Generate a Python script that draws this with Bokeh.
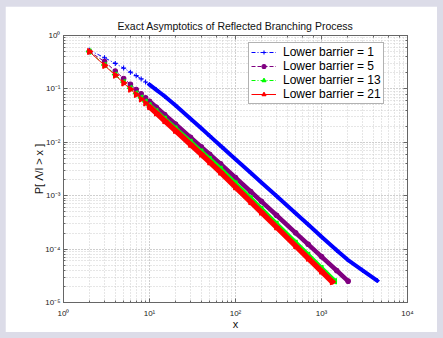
from bokeh.plotting import figure
from bokeh.layouts import column
from bokeh.models import LogAxis, LogTicker, Legend, LegendItem, CustomJSTickFormatter, Range1d
from bokeh.embed import file_html
from bokeh.resources import INLINE

# ---- data ----
x_b1 = [2, 3, 4, 5, 6, 7, 8, 9, 10, 12, 15, 20, 30, 40, 50, 70, 100, 150, 200, 300, 500, 700, 1000, 1500, 2000, 3000, 4440]
p_b1 = [0.53, 0.383, 0.300, 0.245, 0.206, 0.177, 0.154, 0.135, 0.120, 0.0962, 0.0728, 0.0493, 0.0277, 0.0183, 0.0132,
        0.00811, 0.00483, 0.00269, 0.00177, 0.000984, 0.000469, 0.000288, 0.000171, 0.0000953, 0.0000637, 0.0000400, 0.0000257]

x_b5 = [2, 3, 4, 5, 6, 7, 8, 9, 10, 12, 15, 20, 30, 40, 50, 67, 100, 150, 200, 300, 500, 700, 1000, 1500, 2040]
p_b5 = [0.50, 0.325, 0.216, 0.157, 0.122, 0.0975, 0.0807, 0.0684, 0.0587, 0.0454, 0.0330, 0.0220, 0.01236, 0.0082, 0.00598,
        0.00395, 0.00218, 0.00120, 0.000783, 0.000430, 0.000202, 0.000123, 0.0000723, 0.0000397, 0.0000251]

x_b13 = [2, 3, 4, 5, 6, 7, 8, 9, 10, 12, 15, 20, 30, 40, 50, 67, 100, 150, 200, 300, 500, 700, 1000, 1430]
p_b13 = [0.50, 0.280, 0.185, 0.134, 0.103, 0.0824, 0.0681, 0.0575, 0.0494, 0.0380, 0.0275, 0.0182, 0.0102, 0.00671, 0.00486,
         0.00320, 0.00169, 0.000893, 0.000566, 0.000298, 0.000132, 0.0000778, 0.0000442, 0.0000251]

x_b21 = [2, 3, 4, 5, 6, 7, 8, 9, 10, 12, 15, 20, 30, 40, 50, 67, 100, 150, 200, 300, 500, 700, 1000, 1330]
p_b21 = [0.50, 0.275, 0.180, 0.129, 0.0986, 0.0785, 0.0644, 0.0542, 0.0463, 0.0353, 0.0254, 0.0166, 0.00912, 0.00596, 0.00428,
         0.00275, 0.00146, 0.00077, 0.000489, 0.000258, 0.000115, 0.0000676, 0.0000385, 0.0000245]

labels = ["Lower barrier = 1", "Lower barrier = 5", "Lower barrier = 13", "Lower barrier = 21"]

FONT = "Liberation Sans"
AX = "#666666"

fig = figure(x_axis_type="log", y_axis_type="log",
             x_range=Range1d(1, 1e4), y_range=Range1d(1e-5, 1),
             output_backend="svg", toolbar_location=None,
             title="Exact Asymptotics of Reflected Branching Process",
             frame_width=344, frame_height=267,
             min_border_left=58, min_border_right=30, min_border_top=29, min_border_bottom=30,
             margin=(6, 6, 6, 5))
fig.background_fill_color = "white"
fig.border_fill_color = "white"
fig.outline_line_color = AX

fig.title.align = "center"
fig.title.text_font = FONT
fig.title.text_font_size = "10.5px"
fig.title.text_font_style = "normal"
fig.title.text_color = "#111111"
fig.title.standoff = 8

fmt = CustomJSTickFormatter(code="""
const e = Math.round(Math.log10(tick));
const sup = {"-":"\\u207B","0":"\\u2070","1":"\\u00B9","2":"\\u00B2","3":"\\u00B3","4":"\\u2074","5":"\\u2075","6":"\\u2076","7":"\\u2077","8":"\\u2078","9":"\\u2079"};
return "10" + String(e).split("").map(c => sup[c]).join("");
""")

for ax in (fig.xaxis[0], fig.yaxis[0]):
    ax.formatter = fmt
    ax.major_label_text_font = FONT
    ax.major_label_text_font_size = "8px"
    ax.major_label_text_color = "#222222"
    ax.axis_label_text_font = FONT
    ax.axis_label_text_font_size = "11px"
    ax.axis_label_text_font_style = "normal"
    ax.axis_label_text_color = "#111111"
    ax.axis_line_color = AX
    ax.major_tick_line_color = AX
    ax.minor_tick_line_color = AX
    ax.major_tick_in = 4
    ax.major_tick_out = 0
    ax.minor_tick_in = 2
    ax.minor_tick_out = 0

fig.xaxis.major_label_standoff = 6
fig.xaxis.axis_label_standoff = -3
fig.yaxis.major_label_standoff = 3
fig.yaxis.axis_label_standoff = -3

fig.xaxis.axis_label = "x"
fig.yaxis.axis_label = "P[ Λ/l > x ]"

for side in ("above", "right"):
    ax = LogAxis(ticker=LogTicker())
    ax.major_label_text_font_size = "1px"
    ax.major_label_text_alpha = 0
    ax.major_label_standoff = 0
    ax.axis_line_color = AX
    ax.major_tick_line_color = AX
    ax.minor_tick_line_color = AX
    ax.major_tick_in = 4
    ax.major_tick_out = 0
    ax.minor_tick_in = 2
    ax.minor_tick_out = 0
    fig.add_layout(ax, side)

for g in (fig.xgrid[0], fig.ygrid[0]):
    g.grid_line_color = "#c4c4c4"
    g.grid_line_dash = "1 2"
    g.minor_grid_line_color = "#cccccc"
    g.minor_grid_line_dash = "1 2"

series = [
    (x_b1, p_b1, "#0000ff", "4 2 1 2", "cross", 5, 0, 4.0),
    (x_b5, p_b5, "#800080", "4 2", "circle", 4.5, 0, 4.5),
    (x_b13, p_b13, "#00ff00", "4 2 1 2", "triangle", 5.5, 1.5708, 4.5),
    (x_b21, p_b21, "#ff0000", "solid", "triangle", 6, -1.5708, 5.5),
]

items = []
for (xs, ys, col, dash, mk, sz, ang, band_w), lab in zip(series, labels):
    ln = fig.line(xs, ys, line_color=col, line_width=1, line_dash=dash)
    bx = [a for a in xs if a >= 10]
    by = [b for a, b in zip(xs, ys) if a >= 10]
    fig.line(bx, by, line_color=col, line_width=band_w, line_cap="round", line_join="round")
    mr = fig.scatter(xs, ys, marker=mk, size=sz, angle=ang, line_color=col, fill_color=col, line_width=1.1)
    items.append(LegendItem(label=lab, renderers=[ln, mr]))

leg = Legend(items=items, location=(185, 198))
leg.label_text_font = FONT
leg.label_text_font_size = "12px"
leg.label_text_color = "#000000"
leg.border_line_color = AX
leg.border_line_width = 1
leg.background_fill_color = "white"
leg.background_fill_alpha = 1
leg.padding = 2
leg.spacing = 0
leg.label_height = 14
leg.glyph_height = 10
leg.glyph_width = 25
leg.label_standoff = 7
leg.margin = 0
fig.add_layout(leg)

p = column(fig, styles={"background-color": "#dcdce8"})

open("out.html", "w").write(file_html(p, INLINE))
